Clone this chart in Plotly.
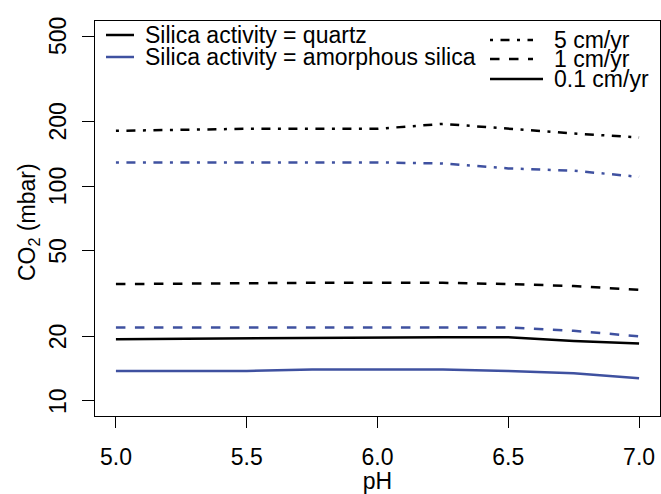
import math
import plotly.graph_objects as go

# ---- data ----
ph = [5.0, 5.25, 5.5, 5.75, 6.0, 6.25, 6.5, 6.75, 7.0]
quartz_5 = [181, 183, 185, 185, 185, 195, 185, 176, 168.5]
amorph_5 = [129, 129, 129, 129, 129, 127.5, 121, 118, 110.5]
quartz_1 = [35.0, 35.2, 35.4, 35.5, 35.5, 35.5, 35.0, 34.3, 32.9]
amorph_1 = [22.0, 22.0, 22.0, 22.0, 22.0, 22.0, 22.0, 21.2, 20.0]
quartz_01 = [19.4, 19.5, 19.6, 19.7, 19.8, 19.8, 19.8, 19.0, 18.5]
amorph_01 = [13.8, 13.8, 13.8, 14.0, 14.0, 14.0, 13.8, 13.45, 12.75]

x_ticks = [5.0, 5.5, 6.0, 6.5, 7.0]
x_labels = ["5.0", "5.5", "6.0", "6.5", "7.0"]
y_ticks = [10, 20, 50, 100, 200, 500]
y_labels = ["10", "20", "50", "100", "200", "500"]

mineral_names = ["Silica activity = quartz", "Silica activity = amorphous silica"]
rate_names = ["5 cm/yr", "1 cm/yr", "0.1 cm/yr"]
y_title = "CO<sub>2</sub> (mbar)"
x_title = "pH"

BLACK = "#000000"
BLUE = "#3F51A0"
DOTDASH = "3px,7.5px,9px,7.5px"
DASHED = "9.5px,9.5px"
LW = 2.5
FONT = "Liberation Sans, Arial, Helvetica, sans-serif"
FS = 23

fig = go.Figure()
series = [
    (quartz_5, BLACK, DOTDASH), (amorph_5, BLUE, DOTDASH),
    (quartz_1, BLACK, DASHED), (amorph_1, BLUE, DASHED),
    (quartz_01, BLACK, "solid"), (amorph_01, BLUE, "solid"),
]
for ys, col, dash in series:
    fig.add_trace(go.Scatter(x=ph, y=ys, mode="lines",
                             line=dict(color=col, width=LW, dash=dash),
                             showlegend=False, hoverinfo="skip"))

W, H = 661, 494
L, R, T, B = 95, 1, 21, 78
pw, ph_ = W - L - R, H - T - B

def px(xp):
    return (xp - L) / pw

def py(yp):
    return (H - B - yp) / ph_

shapes = []
annotations = []
# left legend
for i, (name, col) in enumerate(zip(mineral_names, [BLACK, BLUE])):
    yrow = [35, 57][i]
    shapes.append(dict(type="line", xref="paper", yref="paper",
                       x0=px(106), x1=px(134), y0=py(yrow), y1=py(yrow),
                       line=dict(color=col, width=LW)))
    annotations.append(dict(xref="paper", yref="paper", x=px(143), y=py(yrow),
                            text=name, showarrow=False, xanchor="left",
                            yanchor="middle", font=dict(size=FS, color="black", family=FONT)))
# right legend
for i, (name, dash) in enumerate(zip(rate_names, [DOTDASH, DASHED, "solid"])):
    yrow = [40, 59, 79][i]
    x1 = 533 if i < 2 else 543
    shapes.append(dict(type="line", xref="paper", yref="paper",
                       x0=px(490), x1=px(x1), y0=py(yrow), y1=py(yrow),
                       line=dict(color=BLACK, width=LW, dash=dash)))
    annotations.append(dict(xref="paper", yref="paper", x=px(552), y=py(yrow),
                            text=name, showarrow=False, xanchor="left",
                            yanchor="middle", font=dict(size=FS, color="black", family=FONT)))
# y tick labels (rotated, R style), placed on the log axis through its scale
for tv, tl in zip(y_ticks, y_labels):
    annotations.append(dict(xref="paper", yref="y", x=px(73), y=math.log10(tv),
                            text=tl, textangle=-90, showarrow=False,
                            xanchor="right", yanchor="middle",
                            font=dict(size=FS, color="black", family=FONT)))
# y-axis title
annotations.append(dict(xref="paper", yref="paper", x=px(28), y=py(222),
                        text=y_title, textangle=-90, showarrow=False,
                        xanchor="center", yanchor="middle",
                        font=dict(size=FS, color="black", family=FONT)))

fig.update_layout(
    width=W, height=H,
    margin=dict(l=L, r=R, t=T, b=B, pad=0),
    paper_bgcolor="white", plot_bgcolor="white",
    font=dict(family=FONT, size=FS, color="black"),
    shapes=shapes, annotations=annotations,
    showlegend=False,
)
fig.update_xaxes(range=[4.92, 7.08], tickvals=x_ticks, ticktext=x_labels,
                 ticks="outside", ticklen=11, tickwidth=1, tickcolor="black",
                 ticklabelstandoff=9,
                 showline=True, linecolor="black", linewidth=1, mirror=True,
                 showgrid=False, zeroline=False,
                 title=dict(text=x_title, standoff=6, font=dict(size=FS)))
fig.update_yaxes(type="log", range=[0.930, 2.769], tickvals=y_ticks,
                 showticklabels=False,
                 ticks="outside", ticklen=12, tickwidth=1, tickcolor="black",
                 showline=True, linecolor="black", linewidth=1, mirror=True,
                 showgrid=False, zeroline=False)

fig.write_html("out.html", config={"displayModeBar": False},
               post_script="document.body.style.margin='0';document.body.style.overflow='hidden';")
